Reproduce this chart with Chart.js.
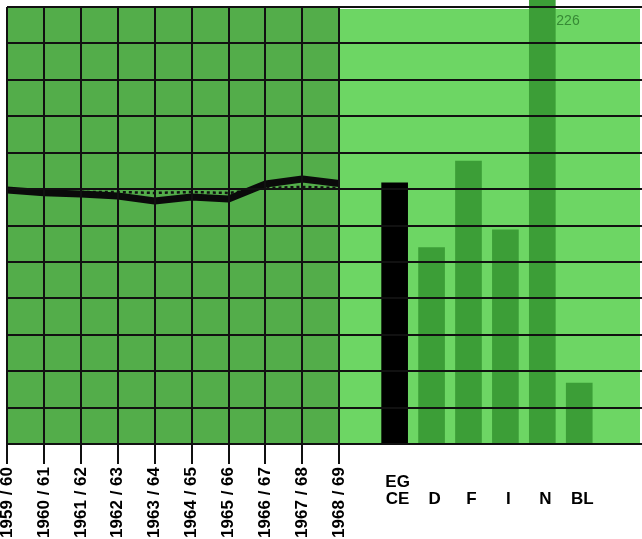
<!DOCTYPE html>
<html>
<head>
<meta charset="utf-8">
<script src="https://cdn.jsdelivr.net/npm/chart.js@4/dist/chart.umd.min.js"></script>
<style>
  html, body { margin: 0; padding: 0; background: #ffffff; overflow: hidden; }
  #c { display: block; }
</style>
</head>
<body>
<canvas id="c" width="642" height="539"></canvas>
<script>
// ---- data ----
const YEARS = ['1959 / 60', '1960 / 61', '1961 / 62', '1962 / 63', '1963 / 64',
               '1964 / 65', '1965 / 66', '1966 / 67', '1967 / 68', '1968 / 69'];
const EC_LINE = [129.3, 127.9, 127.3, 126.3, 123.7, 125.8, 124.7, 132.4, 134.9, 132.6];
const EC_DOTTED = [null, null, 128.3, 128.3, 127.8, 128.3, 127.8, 130.3, 130.9, 130.3];
const BAR_LABELS = [['EG', 'CE'], ['', 'D'], ['', 'F'], ['', 'I'], ['', 'N'], ['', 'BL']];
const BAR_VALUES = [133, 100, 144, 109, 226, 31];
const Y_STEP = 18.54;
const Y_LINES = 12;

// ---- derived ----
const Y_MAX = Y_STEP * Y_LINES;
const X_MAX = 17.2;
const barX = BAR_VALUES.map((_, i) => YEARS.length + 0.5 + i);
const lineData = EC_LINE.map((v, i) => ({ x: i, y: v }));
const dottedData = EC_DOTTED.map((v, i) => ({ x: i, y: v })).filter(p => p.y !== null);
const barData = BAR_VALUES.map((v, i) => ({ x: barX[i], y: v }));

const DARK_BG = '#53ad4a';
const LIGHT_BG = '#6dd664';
const BAR_GREEN = '#3c9e37';
const FONT = { family: '"Liberation Sans", Arial, sans-serif', weight: 'bold', size: 17 };

const bgPlugin = {
  id: 'bg',
  beforeDraw(chart) {
    const { ctx, chartArea: a, scales } = chart;
    const split = scales.x.getPixelForValue(YEARS.length - 1);
    ctx.save();
    ctx.fillStyle = DARK_BG;
    ctx.fillRect(a.left, a.top, split - a.left, a.bottom - a.top);
    ctx.fillStyle = LIGHT_BG;
    ctx.fillRect(split, a.top + 2, a.right - split - 2, a.bottom - a.top - 2);
    ctx.restore();
  }
};

const overflowLabel = {
  id: 'overflowLabel',
  afterDatasetsDraw(chart) {
    const { ctx, chartArea: a } = chart;
    const meta = chart.getDatasetMeta(2);
    BAR_VALUES.forEach((v, i) => {
      if (v > Y_MAX) {
        const el = meta.data[i];
        ctx.save();
        ctx.font = '14px "Liberation Sans", Arial, sans-serif';
        ctx.fillStyle = 'rgba(45,125,45,0.85)';
        ctx.textAlign = 'left';
        ctx.textBaseline = 'middle';
        ctx.fillText(String(v), el.x + el.width / 2 + 1, a.top + 14);
        ctx.restore();
      }
    });
  }
};

new Chart(document.getElementById('c'), {
  type: 'bar',
  data: {
    datasets: [
      {
        type: 'line', xAxisID: 'x', data: lineData,
        borderColor: '#0a0a0a', borderWidth: 7, pointRadius: 0, tension: 0,
        borderJoinStyle: 'round', order: 1
      },
      {
        type: 'line', xAxisID: 'x', data: dottedData,
        borderColor: '#111111', borderWidth: 2.5, borderDash: [3, 3], pointRadius: 0, tension: 0,
        order: 2
      },
      {
        type: 'bar', xAxisID: 'xb', data: barData, grouped: false,
        backgroundColor: BAR_VALUES.map((_, i) => i === 0 ? '#000000' : BAR_GREEN),
        barThickness: 26, clip: false, order: 3
      }
    ]
  },
  options: {
    responsive: false,
    animation: false,
    devicePixelRatio: 1,
    plugins: { legend: { display: false }, tooltip: { enabled: false } },
    layout: { padding: { top: 7, left: 0, right: 0, bottom: 0 } },
    scales: {
      x: {
        type: 'linear', position: 'bottom', min: 0, max: X_MAX, offset: false,
        afterBuildTicks(s) { s.ticks = YEARS.map((_, i) => ({ value: i })); },
        afterFit(s) { s.height = 95; s.paddingLeft = 0; s.paddingRight = 0; },
        ticks: {
          autoSkip: false, minRotation: 90, maxRotation: 90, padding: 3,
          color: '#000', font: FONT,
          callback: (v) => YEARS[v]
        },
        grid: { color: '#111', lineWidth: 2, tickLength: 20, drawOnChartArea: true, offset: false, z: 1 },
        border: { display: false }
      },
      xb: {
        type: 'linear', position: { y: 0 }, min: 0, max: X_MAX, offset: false,
        afterBuildTicks(s) { s.ticks = barX.map(v => ({ value: v })); },
        afterFit(s) { s.height = 0; s.paddingLeft = 0; s.paddingRight = 0; },
        ticks: {
          autoSkip: false, maxRotation: 0, minRotation: 0, padding: 30, labelOffset: 3,
          color: '#000', font: { ...FONT, lineHeight: 1.0 },
          callback: (v, i) => BAR_LABELS[i]
        },
        grid: { display: false, drawTicks: false, offset: false },
        border: { display: false }
      },
      y: {
        type: 'linear', min: 0, max: Y_MAX,
        afterBuildTicks(s) {
          s.ticks = Array.from({ length: Y_LINES + 1 }, (_, i) => ({ value: i * Y_STEP }));
        },
        afterFit(s) { s.width = 7; },
        ticks: { display: false },
        grid: { color: '#111', lineWidth: 2, drawTicks: false, z: 1 },
        border: { display: false }
      }
    }
  },
  plugins: [bgPlugin, overflowLabel]
});
</script>
</body>
</html>
